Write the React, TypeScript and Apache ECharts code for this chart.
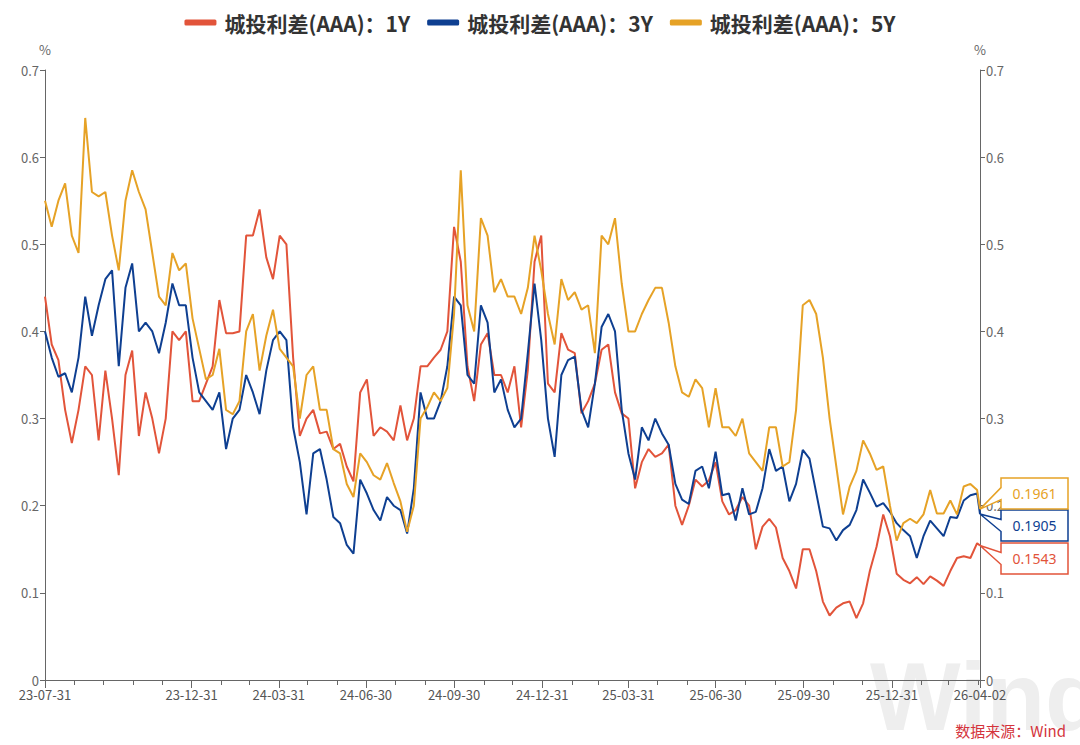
import * as echarts from "echarts";
import { useEffect, useRef } from "react";

// weekly samples starting 2023-07-31, last point is the latest close
const firstDay = "2023-07-31";
const lastDay = "2026-04-02";
const weekCount = 140;

const spread1Y = [
  0.44, 0.385, 0.367, 0.31, 0.272, 0.31, 0.36, 0.35, 0.275, 0.355,
  0.3, 0.235, 0.35, 0.378, 0.28, 0.33, 0.3, 0.26, 0.3, 0.4,
  0.39, 0.4, 0.32, 0.32, 0.34, 0.36, 0.436, 0.398, 0.398, 0.4,
  0.51, 0.51, 0.54, 0.485, 0.46, 0.51, 0.5, 0.37, 0.28, 0.3,
  0.31, 0.283, 0.285, 0.265, 0.271, 0.245, 0.228, 0.33, 0.345, 0.28,
  0.29, 0.285, 0.275, 0.315, 0.275, 0.3, 0.36, 0.36, 0.37, 0.379,
  0.4, 0.52, 0.48, 0.36, 0.32, 0.385, 0.398, 0.35, 0.35, 0.33,
  0.36, 0.29, 0.356, 0.48, 0.51, 0.34, 0.33, 0.398, 0.379, 0.375,
  0.306, 0.32, 0.34, 0.379, 0.385, 0.33, 0.306, 0.3, 0.22, 0.25,
  0.265, 0.256, 0.26, 0.27, 0.2, 0.178, 0.2, 0.23, 0.222, 0.229,
  0.25, 0.205, 0.19, 0.195, 0.21, 0.2, 0.15, 0.176, 0.185, 0.175,
  0.14, 0.125, 0.105, 0.15, 0.15, 0.125, 0.09, 0.074, 0.083, 0.088,
  0.09, 0.071, 0.088, 0.125, 0.153, 0.19, 0.165, 0.122, 0.115, 0.111,
  0.118, 0.11, 0.119, 0.114, 0.108, 0.125, 0.14, 0.142, 0.14, 0.157,
  0.1543
];

const spread3Y = [
  0.4, 0.37, 0.348, 0.352, 0.33, 0.37, 0.44, 0.395, 0.43, 0.46,
  0.47, 0.36, 0.45, 0.478, 0.4, 0.41, 0.4, 0.375, 0.41, 0.455,
  0.43, 0.43, 0.37, 0.33, 0.32, 0.31, 0.33, 0.265, 0.3, 0.31,
  0.35, 0.33, 0.305, 0.355, 0.39, 0.4, 0.39, 0.29, 0.25, 0.19,
  0.26, 0.265, 0.23, 0.187, 0.18, 0.155, 0.145, 0.23, 0.214, 0.195,
  0.183, 0.21, 0.2, 0.195, 0.168, 0.22, 0.33, 0.3, 0.3, 0.32,
  0.36, 0.44, 0.43, 0.35, 0.34, 0.43, 0.41, 0.33, 0.345, 0.31,
  0.29, 0.3, 0.375, 0.455, 0.39, 0.3, 0.256, 0.35, 0.367, 0.371,
  0.31, 0.29, 0.34, 0.405, 0.42, 0.4, 0.31, 0.26, 0.23, 0.29,
  0.275, 0.3, 0.283, 0.27, 0.225, 0.207, 0.202, 0.24, 0.245, 0.22,
  0.262, 0.212, 0.214, 0.183, 0.22, 0.19, 0.193, 0.22, 0.265, 0.24,
  0.245, 0.205, 0.225, 0.264, 0.254, 0.215, 0.176, 0.174, 0.16, 0.172,
  0.178, 0.195, 0.23, 0.215, 0.199, 0.203, 0.193, 0.18, 0.172, 0.165,
  0.14, 0.165, 0.183, 0.174, 0.165, 0.187, 0.186, 0.206, 0.212, 0.214,
  0.1905
];

const spread5Y = [
  0.55, 0.52, 0.55, 0.57, 0.51, 0.49, 0.645, 0.56, 0.555, 0.56,
  0.51, 0.47, 0.55, 0.585, 0.56, 0.54, 0.49, 0.44, 0.43, 0.49,
  0.47, 0.478, 0.415, 0.38, 0.345, 0.35, 0.38, 0.31, 0.305, 0.32,
  0.4, 0.42, 0.355, 0.395, 0.425, 0.38, 0.37, 0.36, 0.3, 0.35,
  0.36, 0.31, 0.31, 0.265, 0.26, 0.225, 0.21, 0.26, 0.25, 0.235,
  0.23, 0.249, 0.226, 0.205, 0.17, 0.2, 0.3, 0.313, 0.33, 0.32,
  0.335, 0.42, 0.585, 0.43, 0.4, 0.53, 0.51, 0.445, 0.46, 0.44,
  0.44, 0.42, 0.45, 0.51, 0.47, 0.42, 0.385, 0.46, 0.436, 0.445,
  0.425, 0.43, 0.375, 0.51, 0.5, 0.53, 0.455, 0.4, 0.4, 0.42,
  0.436, 0.45, 0.45, 0.41, 0.36, 0.33, 0.325, 0.345, 0.335, 0.29,
  0.335, 0.29, 0.29, 0.28, 0.3, 0.26, 0.25, 0.24, 0.29, 0.29,
  0.245, 0.25, 0.31, 0.43, 0.436, 0.42, 0.37, 0.3, 0.245, 0.19,
  0.222, 0.24, 0.275, 0.26, 0.241, 0.245, 0.2, 0.16, 0.18, 0.185,
  0.18, 0.19, 0.218, 0.191, 0.191, 0.206, 0.19, 0.222, 0.225, 0.218,
  0.1961
];

const labelDates = [
  "2023-07-31", "2023-12-31", "2024-03-31", "2024-06-30", "2024-09-30", "2024-12-31",
  "2025-03-31", "2025-06-30", "2025-09-30", "2025-12-31", "2026-04-02"
];

const seriesNames = ["城投利差(AAA)：1Y", "城投利差(AAA)：3Y", "城投利差(AAA)：5Y"];
const seriesColors = ["#e2543a", "#0e3f91", "#e6a226"];
// vertical shift of each end-value callout box, px
const calloutShift = [13, 11.5, -15.5];

const DAY = 86400000;
const startTs = Date.parse(firstDay);
const endTs = Date.parse(lastDay);

function sampleDates(): number[] {
  const list: number[] = [];
  for (let i = 0; i < weekCount; i++) {
    list.push(startTs + i * 7 * DAY);
  }
  list.push(endTs);
  return list;
}

// month-end tick marks between the two ends
function monthEnds(): number[] {
  const ticks: number[] = [startTs];
  for (let k = 0; k < 32; k++) {
    // Aug 2023 .. Mar 2026
    ticks.push(Date.UTC(2023, 7 + k + 1, 0));
  }
  ticks.push(endTs);
  return ticks;
}

function shortDate(v: number) {
  const d = new Date(v);
  const yy = String(d.getUTCFullYear()).slice(2);
  const mm = String(d.getUTCMonth() + 1).padStart(2, "0");
  const dd = String(d.getUTCDate()).padStart(2, "0");
  return `${yy}-${mm}-${dd}`;
}

const dates = sampleDates();

function spreadSeries(name: string, values: number[], color: string) {
  return {
    name,
    type: "line",
    showSymbol: false,
    symbol: "circle",
    data: values.map((v, i) => [dates[i], v]),
    lineStyle: { width: 2, color },
    itemStyle: { color }
  };
}

// callout boxes with a tail pointing at the latest value
function calloutSeries() {
  const all = [spread1Y, spread3Y, spread5Y];
  return {
    type: "custom",
    coordinateSystem: "cartesian2d",
    z: 5,
    silent: true,
    data: all.map((arr, idx) => [endTs, arr[arr.length - 1], idx]),
    renderItem: (_params: any, api: any) => {
      const idx = api.value(2);
      const val = api.value(1);
      const [px, py] = api.coord([api.value(0), val]);
      const color = seriesColors[idx];
      const bx = px + 21;
      const by = py + calloutShift[idx];
      const w = 67;
      const h = 31;
      return {
        type: "group",
        children: [
          {
            type: "polygon",
            shape: {
              points: [
                [bx, by - h / 2],
                [bx + w, by - h / 2],
                [bx + w, by + h / 2],
                [bx, by + h / 2],
                [bx, by + 6],
                [px, py],
                [bx, by - 6]
              ]
            },
            style: { fill: "#fff", stroke: color, lineWidth: 1.5 }
          },
          {
            type: "text",
            x: bx + w / 2,
            y: by,
            style: {
              text: String(val),
              fill: color,
              fontSize: 14,
              align: "center",
              verticalAlign: "middle",
              fontFamily: "'Noto Sans', sans-serif"
            }
          }
        ]
      };
    }
  };
}

function yAxis(position: "left" | "right") {
  return {
    type: "value",
    position,
    min: 0,
    max: 0.7,
    interval: 0.1,
    name: "%",
    nameLocation: "end",
    nameGap: 14,
    nameTextStyle: { color: "#666", fontSize: 13 },
    splitLine: { show: false },
    axisLine: { show: true, lineStyle: { color: "#666" } },
    axisTick: { show: true, length: 5, lineStyle: { color: "#666" } },
    axisLabel: { color: "#666", fontSize: 13, margin: 6 }
  };
}

export default function App() {
  const ref = useRef<HTMLDivElement | null>(null);

  useEffect(() => {
    document.body.style.margin = "0";
    if (!ref.current) {
      return;
    }
    const chart = echarts.init(ref.current, null, { renderer: "svg" });
    const labelTs = labelDates.map((d) => Date.parse(d));
    chart.setOption({
      animation: false,
      textStyle: { fontFamily: "'Noto Sans CJK SC', 'Noto Sans', sans-serif" },
      legend: {
        top: 7,
        left: "center",
        icon: "roundRect",
        itemWidth: 32,
        itemHeight: 6,
        itemGap: 17,
        data: seriesNames,
        textStyle: { fontSize: 21, fontWeight: "bold", color: "#333", padding: [0, 0, 0, 3] }
      },
      grid: { left: 45, right: 100, top: 70, bottom: 65 },
      xAxis: [
        {
          type: "value",
          min: startTs,
          max: endTs,
          splitLine: { show: false },
          axisLine: { lineStyle: { color: "#666" } },
          axisTick: { show: true, length: 5, customValues: monthEnds(), lineStyle: { color: "#666" } },
          axisLabel: {
            customValues: labelTs,
            formatter: (v: number) => shortDate(v),
            color: "#555",
            fontSize: 13,
            margin: 8
          }
        },
        {
          type: "value",
          position: "bottom",
          min: startTs,
          max: endTs,
          splitLine: { show: false },
          axisLine: { show: false },
          axisTick: { show: true, length: 8, customValues: labelTs, lineStyle: { color: "#666" } },
          axisLabel: { show: false }
        }
      ],
      yAxis: [yAxis("left"), yAxis("right")],
      graphic: [
        {
          type: "text",
          left: 870,
          top: 648,
          z: -10,
          silent: true,
          style: {
            text: "Wind",
            fontSize: 96,
            fontWeight: "bold",
            fontFamily: "Liberation Sans, Arial, sans-serif",
            fill: "#eeeeee"
          }
        },
        {
          type: "text",
          right: 14,
          bottom: 7,
          style: {
            text: "数据来源：Wind",
            fontSize: 15,
            fill: "#d4343c",
            fontFamily: "'Noto Sans CJK SC', sans-serif"
          }
        }
      ],
      series: [
        spreadSeries(seriesNames[0], spread1Y, seriesColors[0]),
        spreadSeries(seriesNames[1], spread3Y, seriesColors[1]),
        spreadSeries(seriesNames[2], spread5Y, seriesColors[2]),
        calloutSeries()
      ]
    });
    return () => {
      chart.dispose();
    };
  }, []);

  return <div ref={ref} style={{ width: 1080, height: 745 }} />;
}
